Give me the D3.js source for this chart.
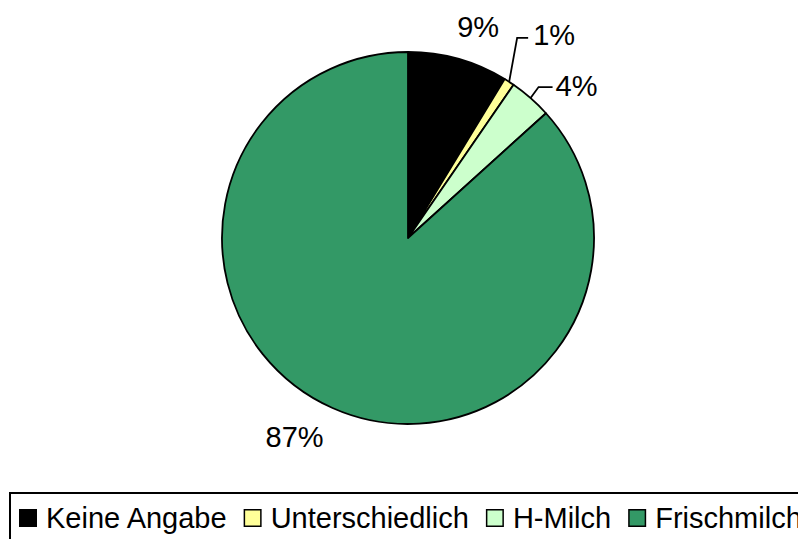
<!DOCTYPE html>
<html>
<head>
<meta charset="utf-8">
<script src="https://cdn.jsdelivr.net/npm/d3@7"></script>
<style>
  html, body { margin: 0; padding: 0; background: #fff; overflow: hidden; }
  svg { display: block; font-family: "Liberation Sans", Arial, sans-serif; }
</style>
</head>
<body>
<svg id="chart" width="798" height="539"></svg>
<script>
// Milk type shares (labels are rounded whole percents).
const categories = ['Keine Angabe', 'Unterschiedlich', 'H-Milch', 'Frischmilch'];
const values = [8.7, 0.9, 3.7, 86.7];
const labels = ['9%', '1%', '4%', '87%'];
const colors = ['#000000', '#ffff99', '#ccffcc', '#339966'];

// Label placement per slice: text offset from the slice's outer mid point,
// and an optional elbow leader (dx/dy to the bend, then horizontal run).
const LABEL_LAYOUT = [
  { tx: -1, ty: -22, leader: null },
  { tx: 24, ty: -37, leader: { bx: 8, by: -44, run: 11 } },
  { tx: 25, ty: -2, leader: { bx: 8, by: -11, run: 14 } },
  { tx: -67, ty: 39, leader: null },
];

const svg = d3.select('#chart');
const cx = 408, cy = 238, radius = 186;
const FONT = 29;

const pie = d3.pie().sort(null).value((d) => d);
const arcs = pie(values);
const arc = d3.arc().innerRadius(0).outerRadius(radius);

const g = svg.append('g').attr('transform', `translate(${cx},${cy})`);

g.selectAll('path.slice')
  .data(arcs)
  .join('path')
  .attr('class', 'slice')
  .attr('d', arc)
  .attr('fill', (d, i) => colors[i])
  .attr('stroke', '#000')
  .attr('stroke-width', 1.8)
  .attr('stroke-linejoin', 'round');

// point on the rim at the slice's mid angle
function rimPoint(d) {
  const a = (d.startAngle + d.endAngle) / 2;
  return [Math.sin(a) * radius, -Math.cos(a) * radius];
}

arcs.forEach((d, i) => {
  const lay = LABEL_LAYOUT[i];
  const [px, py] = rimPoint(d);
  if (lay.leader) {
    const bx = px + lay.leader.bx, by = py + lay.leader.by;
    g.append('polyline')
      .attr('points', `${px},${py} ${bx},${by} ${bx + lay.leader.run},${by}`)
      .attr('fill', 'none')
      .attr('stroke', '#000')
      .attr('stroke-width', 1.8);
  }
  g.append('text')
    .attr('x', px + lay.tx)
    .attr('y', py + lay.ty)
    .attr('font-size', FONT)
    .attr('fill', '#000')
    .text(labels[i]);
});

// legend box runs off the right and bottom edges like the original
svg.append('rect')
  .attr('x', 10).attr('y', 493)
  .attr('width', 820).attr('height', 80)
  .attr('fill', 'none')
  .attr('stroke', '#000')
  .attr('stroke-width', 2);

let lx = 19;
categories.forEach((c, i) => {
  const item = svg.append('g').attr('transform', `translate(${lx},509)`);
  item.append('rect')
    .attr('x', 0.75).attr('y', 0.75)
    .attr('width', 16.5).attr('height', 16.5)
    .attr('fill', colors[i])
    .attr('stroke', '#000')
    .attr('stroke-width', 1.5);
  const t = item.append('text')
    .attr('x', 27)
    .attr('y', 19)
    .attr('font-size', FONT)
    .attr('fill', '#000')
    .text(c);
  lx += 27 + t.node().getComputedTextLength() + 17;
});
</script>
</body>
</html>
